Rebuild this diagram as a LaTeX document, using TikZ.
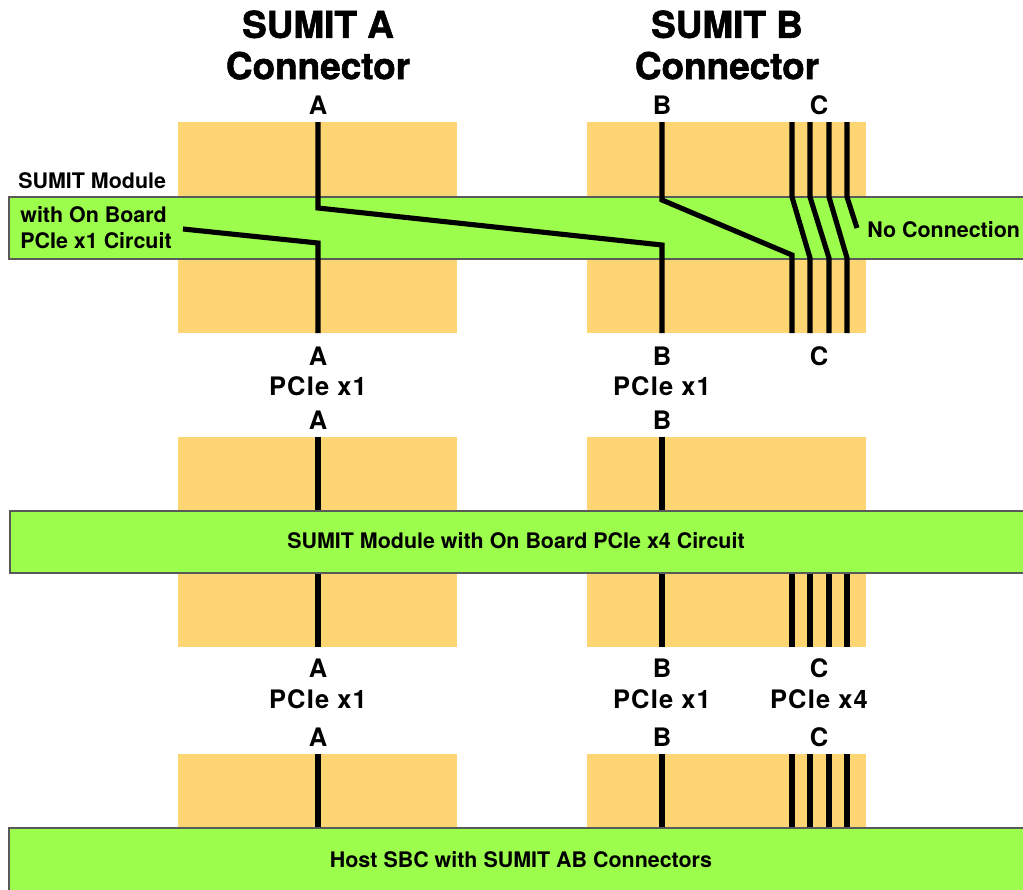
\documentclass[tikz,border=0pt]{standalone}
\usepackage{fontspec}
\setmainfont{TeX Gyre Heros}
\newfontfamily\titlefont[FakeBold=1.6]{TeX Gyre Heros}
\newfontfamily\pinfont[LetterSpace=4.5]{TeX Gyre Heros}
\definecolor{slotOrange}{RGB}{253,213,114}
\definecolor{boardGreen}{RGB}{156,253,76}
\tikzstyle{connBlock}=[fill=slotOrange]
\tikzstyle{boardBand}=[fill=boardGreen, draw=black!65, line width=0.7pt]
\tikzstyle{pinWire}=[line width=2.9pt, line join=miter]
\tikzstyle{pinLabel}=[inner sep=0pt, font=\pinfont\fontsize{14.5}{17}\selectfont\bfseries]
\tikzstyle{boardText}=[inner sep=0pt, font=\fontsize{12.2}{14}\selectfont\bfseries]
\tikzstyle{titleText}=[inner sep=0pt, align=center, font=\titlefont\fontsize{21}{23.5}\selectfont\bfseries]

\begin{document}
\begin{tikzpicture}[x=0.02cm, y=-0.02cm]
    \useasboundingbox (0,0) rectangle (1023,889);
    \clip (0,0) rectangle (1023,889);

    % Titles
    \node[titleText] (titleA) at (318,45) {SUMIT A\\Connector};
    \node[titleText] (titleB) at (727,45) {SUMIT B\\Connector};

    % Connector blocks
    \fill[connBlock] (178,122) rectangle (457,333);
    \fill[connBlock] (587,122) rectangle (866,333);
    \fill[connBlock] (178,437) rectangle (457,647);
    \fill[connBlock] (587,437) rectangle (866,647);
    \fill[connBlock] (178,754) rectangle (457,828);
    \fill[connBlock] (587,754) rectangle (866,828);

    % Top module wire points
    \coordinate (aIn) at (318,122);
    \coordinate (aBend) at (318,208);
    \coordinate (bOutBend) at (662,245);
    \coordinate (bOut) at (662,333);
    \coordinate (cktEnd) at (183,229);
    \coordinate (aOutBend) at (318,243);
    \coordinate (aOut) at (318,333);
    \coordinate (bIn) at (662,122);
    \coordinate (bBend) at (662,200);
    \coordinate (cOneBend) at (792,255);
    \coordinate (cOneOut) at (792,333);

    % Top module (draw band first, wires on it)
    \filldraw[boardBand] (9,197) rectangle (1030,259);
    \draw[pinWire] (aIn) -- (aBend) -- (bOutBend) -- (bOut);
    \draw[pinWire] (cktEnd) -- (aOutBend) -- (aOut);
    \draw[pinWire] (bIn) -- (bBend) -- (cOneBend) -- (cOneOut);
    \foreach \xin/\xout in {792/810, 810/829, 829/847} {
        \coordinate (cIn) at (\xin,122);
        \coordinate (cOut) at (\xout,333);
        \draw[pinWire] (cIn) -- (\xin,197) -- (\xout,258) -- (cOut);
    }
    \coordinate (cFourIn) at (847,122);
    \coordinate (cFourEnd) at (857,228);
    \draw[pinWire] (cFourIn) -- (847,197) -- (cFourEnd);

    \node[boardText, anchor=west] (modTextA) at (18,181) {SUMIT Module};
    \node[boardText, anchor=west] (modTextB) at (20,215) {with On Board};
    \node[boardText, anchor=west] (modTextC) at (20,240.5) {PCIe x1 Circuit};
    \node[boardText, anchor=west] (noConn) at (867,229.5) {No Connection};

    % Top module labels
    \node[pinLabel] (labA1) at (318,105) {A};
    \node[pinLabel] (labB1) at (662,105) {B};
    \node[pinLabel] (labC1) at (819,105) {C};
    \node[pinLabel] (labA2) at (318,356) {A};
    \node[pinLabel] (labB2) at (662,356) {B};
    \node[pinLabel] (labC2) at (819,356) {C};
    \node[pinLabel] (pcieA1) at (318,386) {PCIe x1};
    \node[pinLabel] (pcieB1) at (662,386) {PCIe x1};
    \node[pinLabel] (labA3) at (318,420) {A};
    \node[pinLabel] (labB3) at (662,420) {B};

    % Middle module wires
    \coordinate (midAIn) at (318,437);
    \coordinate (midAOut) at (318,647);
    \coordinate (midBIn) at (662,437);
    \coordinate (midBOut) at (662,647);
    \draw[pinWire] (midAIn) -- (midAOut);
    \draw[pinWire] (midBIn) -- (midBOut);
    \foreach \xc in {792, 810, 829, 847} {
        \coordinate (midCIn) at (\xc,573);
        \coordinate (midCOut) at (\xc,647);
        \draw[pinWire] (midCIn) -- (midCOut);
    }
    \filldraw[boardBand] (10,511) rectangle (1030,573);
    \node[boardText] (midText) at (516,541) {SUMIT Module with On Board PCIe x4 Circuit};

    % Middle module labels
    \node[pinLabel] (labA4) at (318,668) {A};
    \node[pinLabel] (labB4) at (662,668) {B};
    \node[pinLabel] (labC4) at (819,668) {C};
    \node[pinLabel] (pcieA2) at (318,699) {PCIe x1};
    \node[pinLabel] (pcieB2) at (662,699) {PCIe x1};
    \node[pinLabel] (pcieC2) at (819,699) {PCIe x4};
    \node[pinLabel] (labA5) at (318,737) {A};
    \node[pinLabel] (labB5) at (662,737) {B};
    \node[pinLabel] (labC5) at (819,737) {C};

    % Host board wires
    \foreach \xc in {318, 662, 792, 810, 829, 847} {
        \coordinate (hostIn) at (\xc,754);
        \coordinate (hostOut) at (\xc,828);
        \draw[pinWire] (hostIn) -- (hostOut);
    }
    \filldraw[boardBand] (9,828) rectangle (1030,900);
    \node[boardText] (hostText) at (521,860) {Host SBC with SUMIT AB Connectors};

\end{tikzpicture}
\end{document}
